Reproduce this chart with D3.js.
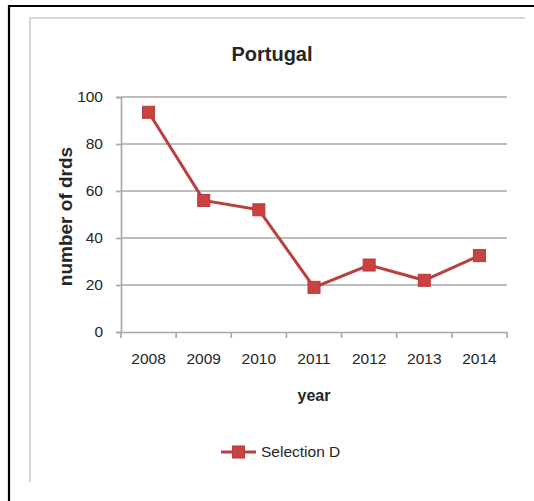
<!DOCTYPE html>
<html>
<head>
<meta charset="utf-8">
<script src="https://cdn.jsdelivr.net/npm/d3@7"></script>
<style>
  html, body { margin: 0; padding: 0; background: #fff; }
  svg { display: block; }
  text { font-family: "Liberation Sans", Arial, sans-serif; fill: #262626; }
</style>
</head>
<body>
<svg id="chart" width="534" height="501"></svg>
<script>
// Drug-related deaths, Portugal, selection D
const years = ["2008", "2009", "2010", "2011", "2012", "2013", "2014"];
const deaths = [93.5, 56, 52, 19, 28.5, 22, 32.5];
const yTicks = [0, 20, 40, 60, 80, 100];
const seriesName = "Selection D";

const svg = d3.select("#chart");
const W = 534, H = 501;

// outer black frame (left and top edges)
svg.append("path")
  .attr("d", `M9,${H} V6 H${W}`)
  .attr("fill", "none").attr("stroke", "#000").attr("stroke-width", 2.2);

// chart area frame
svg.append("path")
  .attr("d", "M30,482 V18 H525")
  .attr("fill", "none").attr("stroke", "#c8c8c8").attr("stroke-width", 1.5);

const plot = { left: 121, right: 507, top: 97, bottom: 332 };

const x = d3.scaleBand().domain(years).range([plot.left, plot.right]).padding(0);
const y = d3.scaleLinear().domain([0, 100]).range([plot.bottom, plot.top]);

// horizontal gridlines
svg.append("g")
  .selectAll("line")
  .data(yTicks.filter(d => d > 0))
  .join("line")
  .attr("x1", plot.left).attr("x2", plot.right)
  .attr("y1", d => y(d)).attr("y2", d => y(d))
  .attr("stroke", "#a9a9a9").attr("stroke-width", 1.7);

// y axis
const yAxis = svg.append("g")
  .attr("transform", `translate(${plot.left},0)`)
  .call(d3.axisLeft(y).tickValues(yTicks).tickSize(5).tickPadding(13));
yAxis.select(".domain").attr("stroke", "#a9a9a9").attr("stroke-width", 1.7);
yAxis.selectAll(".tick line").attr("stroke", "#a9a9a9").attr("stroke-width", 1.7);
yAxis.selectAll(".tick text")
  .attr("font-size", 15.5).attr("fill", "#222")
  .style("font-family", "'Liberation Sans', Arial, sans-serif");

// x axis with ticks on category boundaries
const xAxis = svg.append("g")
  .attr("transform", `translate(0,${plot.bottom})`)
  .call(d3.axisBottom(x).tickSize(0).tickPadding(21));
xAxis.select(".domain").attr("stroke", "#a9a9a9").attr("stroke-width", 1.7);
xAxis.selectAll(".tick text")
  .attr("font-size", 15.5).attr("fill", "#222")
  .style("font-family", "'Liberation Sans', Arial, sans-serif");
const bounds = years.map(d => x(d)).concat([x(years[years.length - 1]) + x.bandwidth()]);
svg.append("g").selectAll("line")
  .data(bounds)
  .join("line")
  .attr("x1", d => d).attr("x2", d => d)
  .attr("y1", plot.bottom).attr("y2", plot.bottom + 6)
  .attr("stroke", "#a9a9a9").attr("stroke-width", 1.7);

const cx = d => x(d) + x.bandwidth() / 2;

// series line
const lineColor = "#b8403d";
const markerFill = "#c9423f";
svg.append("path")
  .datum(years.map((d, i) => [cx(d), y(deaths[i])]))
  .attr("d", d3.line())
  .attr("fill", "none").attr("stroke", lineColor).attr("stroke-width", 3);

// square markers
const ms = 12;
svg.append("g").selectAll("rect")
  .data(years.map((d, i) => ({ year: d, v: deaths[i] })))
  .join("rect")
  .attr("x", d => cx(d.year) - ms / 2)
  .attr("y", d => y(d.v) - ms / 2)
  .attr("width", ms).attr("height", ms)
  .attr("fill", markerFill).attr("stroke", "#b3393a").attr("stroke-width", 1);

// title
svg.append("text")
  .attr("x", 272).attr("y", 61)
  .attr("text-anchor", "middle")
  .attr("font-size", 20).attr("font-weight", "bold")
  .attr("fill", "#111")
  .text("Portugal");

// axis titles
svg.append("text")
  .attr("x", 314).attr("y", 401)
  .attr("text-anchor", "middle")
  .attr("font-size", 16).attr("font-weight", "bold")
  .attr("fill", "#111")
  .text("year");

svg.append("text")
  .attr("transform", "translate(65.5,216.5) rotate(-90)")
  .attr("text-anchor", "middle")
  .attr("dy", "0.35em")
  .attr("font-size", 19).attr("font-weight", "bold")
  .attr("fill", "#111")
  .text("number of drds");

// legend
const lg = svg.append("g").attr("transform", "translate(221,452)");
lg.append("line")
  .attr("x1", 0).attr("x2", 35).attr("y1", 0).attr("y2", 0)
  .attr("stroke", lineColor).attr("stroke-width", 3);
lg.append("rect")
  .attr("x", 17.5 - 6).attr("y", -6).attr("width", 12).attr("height", 12)
  .attr("fill", markerFill).attr("stroke", "#b3393a").attr("stroke-width", 1);
lg.append("text")
  .attr("x", 40).attr("y", 0).attr("dy", "0.35em")
  .attr("font-size", 15.5).attr("fill", "#222")
  .text(seriesName);
</script>
</body>
</html>
